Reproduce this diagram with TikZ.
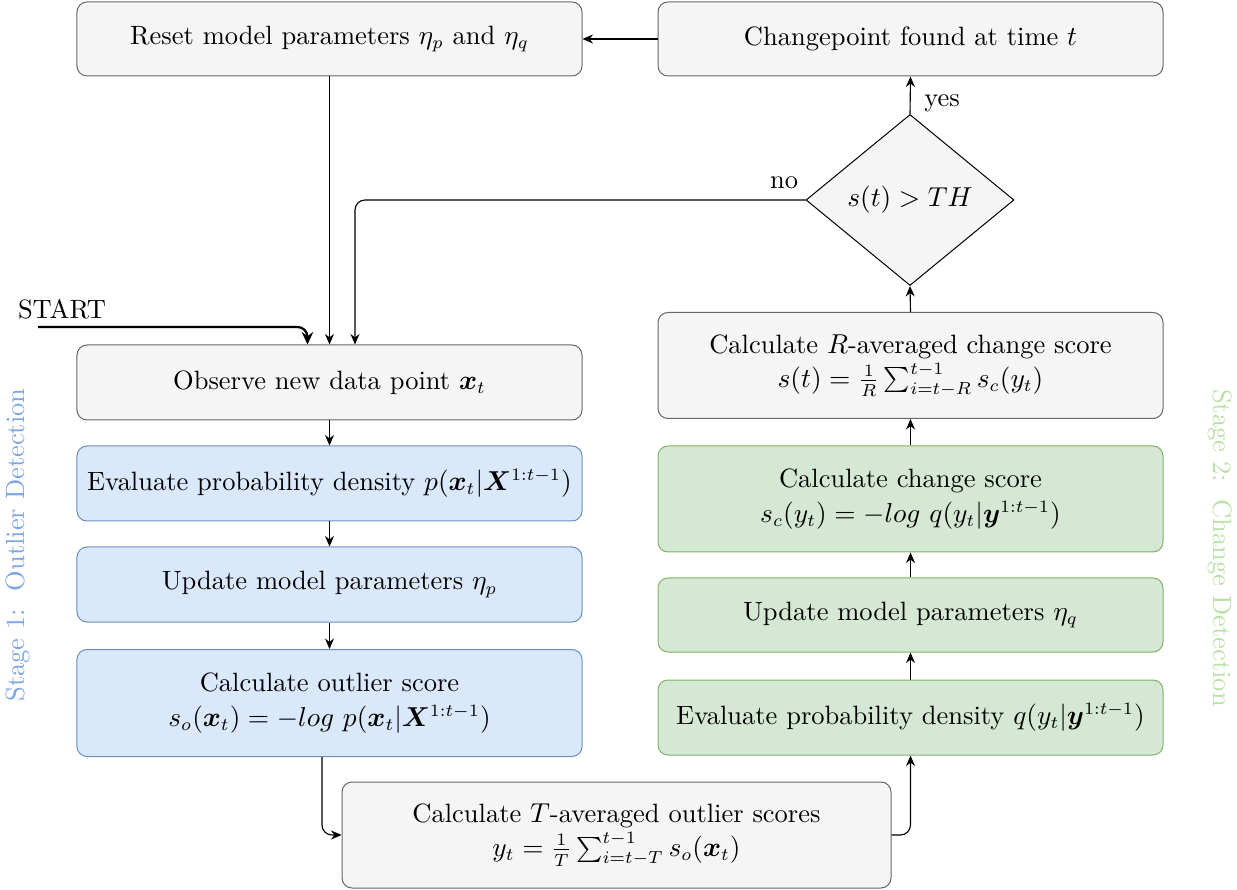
\documentclass[tikz,border=0pt]{standalone}
\usepackage{bm}
\usetikzlibrary{shapes.geometric,arrows.meta,calc}
\definecolor{gfill}{HTML}{F5F5F5}
\definecolor{gdraw}{HTML}{666666}
\definecolor{bfill}{HTML}{DAE8FC}
\definecolor{bdraw}{HTML}{6C8EBF}
\definecolor{grfill}{HTML}{D5E8D4}
\definecolor{grdraw}{HTML}{82B366}
\definecolor{stageone}{HTML}{7EA6E0}
\definecolor{stagetwo}{HTML}{B9E0A5}
\begin{document}
\begin{tikzpicture}[x=0.4pt,y=-0.4pt, font=\fontsize{10.6}{12.7}\selectfont,
 box/.style={rectangle, rounded corners=4pt, draw=gdraw, fill=gfill, line width=0.4pt, minimum width=202pt, align=center, inner sep=0pt},
 bluebox/.style={box, draw=bdraw, fill=bfill},
 greenbox/.style={box, draw=grdraw, fill=grfill},
 arr/.style={-{Stealth[length=4.2pt,width=3.6pt]}, line width=0.45pt},
 startarr/.style={-{Stealth[length=5pt,width=4.6pt]}, line width=0.9pt},
 lbl/.style={inner sep=0pt}
]
\useasboundingbox (0,0) rectangle (1237,890);
% left column
\node[box, minimum height=29.6pt] (reset) at (329.5,39) {Reset model parameters $\eta_p$ and $\eta_q$};
\node[box, minimum height=30pt] (observe) at (329.5,382.5) {Observe new data point $\bm{x}_t$};
\node[bluebox, minimum height=30pt] (evalp) at (329.5,483.5) {Evaluate probability density $p(\bm{x}_t|\bm{X}^{1:t-1})$};
\node[bluebox, minimum height=30pt] (updp) at (329.5,584.5) {Update model parameters $\eta_p$};
\node[bluebox, minimum height=42.8pt] (outlier) at (329.5,703) {Calculate outlier score\\[1pt] $s_o(\bm{x}_t) = -log\ p(\bm{x}_t|\bm{X}^{1:t-1})$};
\node[box, minimum width=219.6pt, minimum height=42.4pt] (tavg) at (616.5,835) {Calculate $T$-averaged outlier scores\\[1pt] $y_t = \frac{1}{T}\sum_{i=t-T}^{t-1} s_o(\bm{x}_t)$};
% right column
\node[box, minimum height=29.6pt] (found) at (910.5,39) {Changepoint found at time $t$};
\node[diamond, draw=black, fill=gfill, line width=0.4pt, inner sep=0pt, aspect=1.216, minimum width=83.2pt, minimum height=68.4pt] (dec) at (910,200) {$s(t) > TH$};
\node[box, minimum height=42.4pt] (ravg) at (910.5,365.5) {Calculate $R$-averaged change score\\[1pt] $s(t) = \frac{1}{R}\sum_{i=t-R}^{t-1} s_c(y_t)$};
\node[greenbox, minimum height=42.4pt] (cscore) at (910.5,499) {Calculate change score\\[1pt] $s_c(y_t) = -log\ q(y_t|\bm{y}^{1:t-1})$};
\node[greenbox, minimum height=29.6pt] (updq) at (910.5,615) {Update model parameters $\eta_q$};
\node[greenbox, minimum height=30pt] (evalq) at (910.5,717.5) {Evaluate probability density $q(y_t|\bm{y}^{1:t-1})$};
% labels
\node[lbl] (start) at (62,309) {START};
\node[lbl] (nolbl) at (784,183) {no};
\node[lbl] (yeslbl) at (942,103) {yes};
\node[lbl, rotate=90, text=stageone] (stage1) at (18,545) {Stage 1:\ \ Outlier Detection};
\node[lbl, rotate=-90, text=stagetwo] (stage2) at (1220,548) {Stage 2:\ \ Change Detection};
\coordinate (s0) at (38,327);
% connectors
\draw[arr] (found.west) -- (reset.east);
\draw[arr] (reset.south) -- (observe.north);
\draw[arr, rounded corners=4pt] (dec.west) -| ($(observe.north)+(25.5,0)$);
\draw[startarr, rounded corners=4pt] (s0) -| ($(observe.north)+(-22,0)$);
\draw[arr] (dec.north) -- (found.south);
\draw[arr] (ravg.north) -- (dec.south);
\draw[arr] (cscore.north) -- (ravg.south);
\draw[arr] (updq.north) -- (cscore.south);
\draw[arr] (evalq.north) -- (updq.south);
\draw[arr] (observe.south) -- (evalp.north);
\draw[arr] (evalp.south) -- (updp.north);
\draw[arr] (updp.south) -- (outlier.north);
\draw[arr, rounded corners=4pt] ($(outlier.south)+(-7.5,0)$) |- (tavg.west);
\draw[arr, rounded corners=4pt] (tavg.east) -| (evalq.south);
\end{tikzpicture}
\end{document}
